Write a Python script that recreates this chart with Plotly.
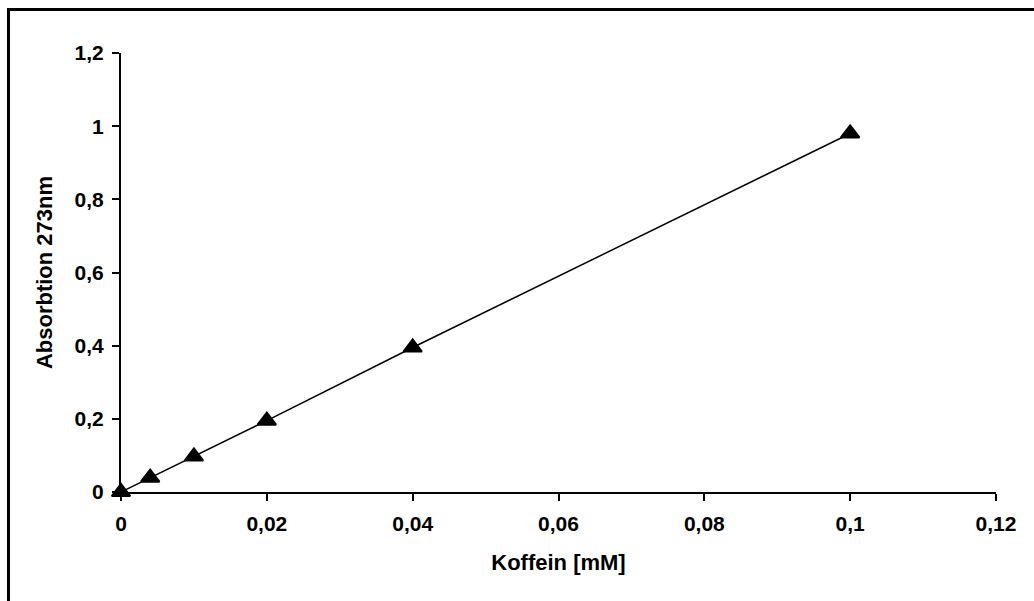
import plotly.graph_objects as go

koffein = [0, 0.004, 0.01, 0.02, 0.04, 0.1]
absorption = [0, 0.039, 0.097, 0.195, 0.395, 0.98]
x_ticks = [0, 0.02, 0.04, 0.06, 0.08, 0.1, 0.12]
y_ticks = [0, 0.2, 0.4, 0.6, 0.8, 1.0, 1.2]

font_family = "Arial, Liberation Sans, sans-serif"
tick_font = dict(family=font_family, size=21, color="black", weight="bold")
title_font = dict(family=font_family, size=22, color="black", weight="bold")

fig = go.Figure()
fig.add_trace(go.Scatter(
    x=koffein, y=absorption, mode="lines+markers",
    line=dict(color="black", width=1.5),
    marker=dict(symbol="triangle-up", size=16, color="black",
                line=dict(color="black", width=2)),
    cliponaxis=False, showlegend=False,
))

axis_common = dict(
    showline=True, linecolor="black", linewidth=2,
    ticks="outside", ticklen=7, tickwidth=2, tickcolor="black",
    showgrid=False, zeroline=False, layer="below traces",
    tickfont=tick_font,
)

fig.update_xaxes(range=[0, 0.12], tickvals=x_ticks, ticklabelstandoff=5,
                 title=dict(text="Koffein [mM]", standoff=20, font=title_font),
                 **axis_common)
fig.update_yaxes(range=[0, 1.2], tickvals=y_ticks, ticklabelstandoff=4,
                 title=dict(text="Absorbtion 273nm", standoff=16, font=title_font),
                 **axis_common)

fig.add_shape(type="rect", xref="paper", yref="paper",
              x0=-0.1286, x1=1.2, y0=-0.4, y1=1.099,
              line=dict(color="black", width=3), layer="below")

fig.update_layout(
    width=1034, height=601,
    margin=dict(l=121, r=38, t=53, b=109, autoexpand=False),
    paper_bgcolor="white", plot_bgcolor="white",
    separators=",.",
    font=dict(family=font_family, color="black"),
)

fig.write_html("out.html")
